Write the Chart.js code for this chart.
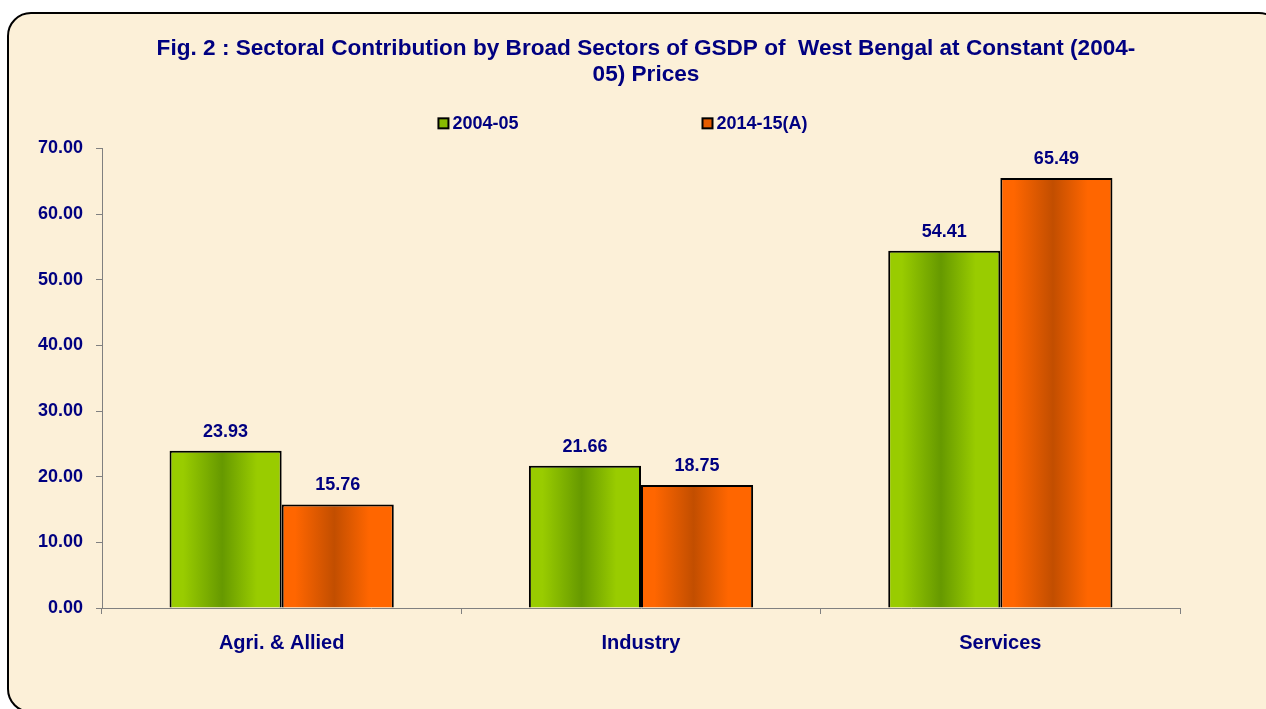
<!DOCTYPE html>
<html>
<head>
<meta charset="utf-8">
<script src="https://cdn.jsdelivr.net/npm/chart.js@4"></script>
<style>
  html, body { margin: 0; padding: 0; background: #ffffff; overflow: hidden; }
  #frame {
    position: absolute; left: 7px; top: 12px; width: 1272px; height: 697px;
    border: 2px solid #000; border-radius: 24px; background: #FCF0D8;
  }
  #myChart { position: absolute; left: 0; top: 0; }
</style>
</head>
<body>
<div id="frame"></div>
<canvas id="myChart" width="1266" height="709"></canvas>
<script>
const categories = ['Agri. & Allied', 'Industry', 'Services'];
const seriesNames = ['2004-05', '2014-15(A)'];
const values2004 = [23.93, 21.66, 54.41];
const values2014 = [15.76, 18.75, 65.49];
const titleLines = ['Fig. 2 : Sectoral Contribution by Broad Sectors of GSDP of  West Bengal at Constant (2004-', '05) Prices'];

const navy = '#000080';
const fontFamily = '"Liberation Sans", Arial, sans-serif';
const catPct = 0.624;
const legendSwatches = ['#88BB00', '#E65C00'];

document.addEventListener('DOMContentLoaded', () => {
  function barGradient (light, dark) {
    return (ctx) => {
      const chart = ctx.chart;
      const xScale = chart.scales.x;
      if (!xScale || !xScale.width || ctx.dataIndex === undefined) return light;
      const center = xScale.getPixelForValue(ctx.dataIndex);
      const barW = (xScale.width / categories.length) * catPct / 2;
      const left = center - barW + ctx.datasetIndex * barW;
      const g = chart.ctx.createLinearGradient(left, 0, left + barW, 0);
      g.addColorStop(0, light);
      g.addColorStop(0.12, light);
      g.addColorStop(0.47, dark);
      g.addColorStop(0.78, light);
      g.addColorStop(1, light);
      return g;
    };
  }

  // value labels above each bar
  const valueLabels = {
    id: 'valueLabels',
    afterDatasetsDraw (chart) {
      const c = chart.ctx;
      c.save();
      c.font = 'bold 18px ' + fontFamily;
      c.fillStyle = navy;
      c.textAlign = 'center';
      c.textBaseline = 'middle';
      chart.data.datasets.forEach((ds, i) => {
        chart.getDatasetMeta(i).data.forEach((bar, j) => {
          c.fillText(ds.data[j].toFixed(2), bar.x, bar.y - 19);
        });
      });
      c.restore();
    }
  };

  // legend row between title and plot, items spaced wide apart
  const wideLegend = {
    id: 'wideLegend',
    afterDraw (chart) {
      const c = chart.ctx;
      const gap = 184;
      const box = 10;
      c.save();
      c.font = 'bold 18px ' + fontFamily;
      const widths = chart.data.datasets.map(ds => box + 4 + c.measureText(ds.label).width);
      const total = widths.reduce((a, b) => a + b, 0) + gap * (widths.length - 1);
      let x = chart.width / 2 - 10 - total / 2;
      const y = chart.chartArea.top - 25;
      chart.data.datasets.forEach((ds, i) => {
        c.fillStyle = legendSwatches[i];
        c.fillRect(x, y - box / 2, box, box);
        c.strokeStyle = '#000';
        c.lineWidth = 2;
        c.strokeRect(x, y - box / 2, box, box);
        c.fillStyle = navy;
        c.textAlign = 'left';
        c.textBaseline = 'middle';
        c.fillText(ds.label, x + box + 4, y + 1);
        x += widths[i] + gap;
      });
      c.restore();
    }
  };

  new Chart(document.getElementById('myChart'), {
    type: 'bar',
    data: {
      labels: categories,
      datasets: [
        {
          label: seriesNames[0],
          data: values2004,
          backgroundColor: barGradient('#99CC00', '#669900'),
          borderColor: '#000',
          borderWidth: 2
        },
        {
          label: seriesNames[1],
          data: values2014,
          backgroundColor: barGradient('#FF6600', '#C24E00'),
          borderColor: '#000',
          borderWidth: 2
        }
      ]
    },
    options: {
      responsive: false,
      animation: false,
      datasets: { bar: { barPercentage: 1, categoryPercentage: catPct } },
      layout: { padding: { left: 26, right: 0, top: 0, bottom: 37 } },
      plugins: {
        tooltip: { enabled: false },
        legend: { display: false },
        title: {
          display: true,
          text: titleLines,
          color: navy,
          font: { family: fontFamily, size: 22.6, weight: 'bold', lineHeight: 1.18 },
          padding: { top: 35, bottom: 60 }
        }
      },
      scales: {
        x: {
          offset: true,
          grid: { offset: true, drawOnChartArea: false, tickLength: 6, color: '#808080' },
          border: { color: '#808080' },
          ticks: {
            color: navy,
            padding: 17,
            font: { family: fontFamily, size: 20, weight: 'bold' }
          }
        },
        y: {
          min: 0,
          max: 70,
          grid: { drawOnChartArea: false, tickLength: 6, color: '#808080' },
          border: { color: '#808080' },
          ticks: {
            stepSize: 10,
            color: navy,
            padding: 13,
            font: { family: fontFamily, size: 18, weight: 'bold' },
            callback: (v) => v.toFixed(2)
          },
          afterFit: (scale) => { scale.width = 76; }
        },
        y2: {
          position: 'right',
          grid: { display: false },
          border: { display: false },
          ticks: { display: false },
          afterFit: (scale) => { scale.width = 86; }
        }
      }
    },
    plugins: [valueLabels, wideLegend]
  });
});
</script>
</body>
</html>
